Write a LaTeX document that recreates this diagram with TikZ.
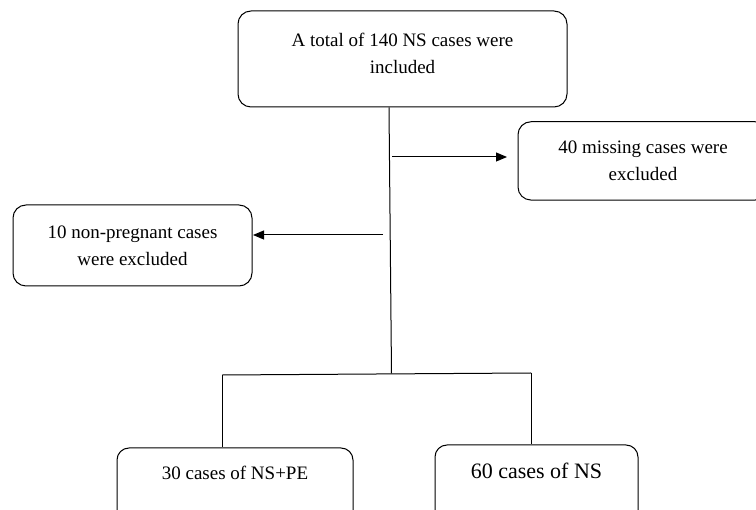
\documentclass[tikz,border=0pt]{standalone}
\usepackage{fontspec}
\setmainfont{Liberation Serif}
\usetikzlibrary{arrows.meta}
\begin{document}
\begin{tikzpicture}[x=1pt,y=-1pt,
  box/.style={draw,line width=1pt,rounded corners=13pt,inner sep=0pt,align=center,
    font=\fontsize{19}{27}\selectfont},
  link/.style={line width=1pt},
  arr/.style={line width=1pt,-{Triangle[length=11pt,width=9pt]}}]
\useasboundingbox (0,0) rectangle (756,510);
\clip (0,0) rectangle (756,510);
% boxes
\node[box,minimum width=329pt,minimum height=96pt] (top) at (402.5,59)
  {A total of 140 NS cases were\\included\rule[-10.6pt]{0pt}{10.6pt}};
\node[box,minimum width=250pt,minimum height=78.3pt] (miss) at (643,160.9)
  {40 missing cases were\\excluded};
\node[box,minimum width=239pt,minimum height=81pt] (nonp) at (132.5,245.5)
  {10 non-pregnant cases\\were excluded};
\node[box,rounded corners=12pt,minimum width=236pt,text height=32pt,text depth=45pt,anchor=base] (nspe) at (235,480)
  {30 cases of NS+PE};
\node[box,rounded corners=12pt,minimum width=203pt,text height=33.3pt,text depth=45pt,anchor=base,
  font=\fontsize{22}{27}\selectfont] (ns) at (536.5,478.3)
  {60 cases of NS};
% connector points
\coordinate (trunk) at ([xshift=-13.5pt]top.south);
\coordinate (jn) at (391.5,373.5);
\coordinate (hl) at (222.5,375);
\coordinate (hr) at (531,373);
\coordinate (ra) at (392,157);
\coordinate (rb) at (507,157);
\coordinate (la) at (383,235);
\coordinate (lb) at (253,235);
% connectors
\draw[link] (trunk) -- (jn);
\draw[link] (hl) -- (hr);
\draw[link] (hl) -- (hl |- nspe.north);
\draw[link] (hr) -- (hr |- ns.north);
\draw[arr] (ra) -- (rb);
\draw[arr] (la) -- (lb);
\end{tikzpicture}
\end{document}
